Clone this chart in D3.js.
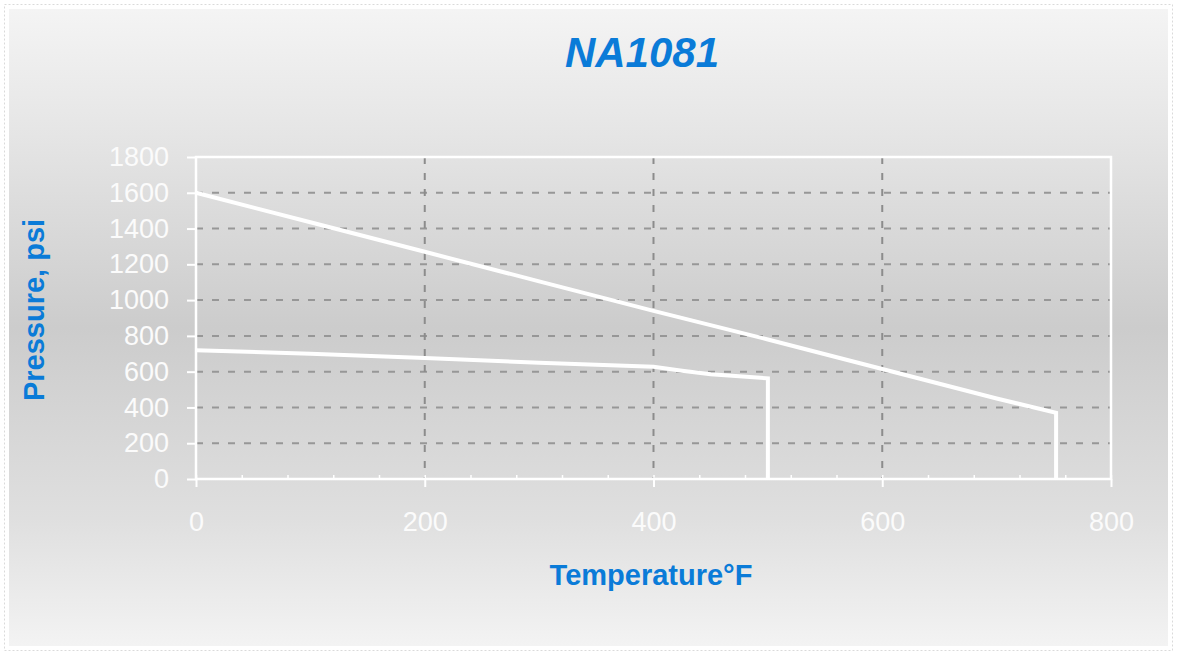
<!DOCTYPE html>
<html>
<head>
<meta charset="utf-8">
<script src="https://cdn.jsdelivr.net/npm/d3@7"></script>
<style>
  body { margin: 0; background: #ffffff; }
  text { font-family: "Liberation Sans", Arial, sans-serif; }
</style>
</head>
<body>
<svg></svg>
<script>
var width = 1177;
var height = 655;

// values
var xTicks = [0, 200, 400, 600, 800];
var yTicks = [0, 200, 400, 600, 800, 1000, 1200, 1400, 1600, 1800];
var tempHigh = [0, 100, 200, 300, 400, 500, 600, 700, 752, 752];
var pressHigh = [1600, 1435, 1270, 1105, 940, 780, 615, 450, 370, 0];
var tempLow = [0, 100, 200, 300, 400, 425, 450, 500, 500];
var pressLow = [720, 700, 677, 650, 627, 605, 585, 563, 0];

// plot box (window.top is reserved, so not "top")
var plotLeft = 196, plotRight = 1111, plotTop = 157, plotBottom = 479;

var xScale = d3.scaleLinear()
                .domain([0, 800])
                .range([plotLeft, plotRight]);
var yScale = d3.scaleLinear()
                .domain([0, 1800])
                .range([plotBottom, plotTop]);

var svg = d3.select('svg')
    .attr('width', width)
    .attr('height', height);

var grad = svg.append('defs')
  .append('linearGradient')
    .attr('id', 'bg')
    .attr('x1', 0).attr('y1', 0)
    .attr('x2', 0).attr('y2', 1);
grad.selectAll('stop')
    .data([[0, '#f4f4f4'], [0.2, '#e5e5e5'], [0.5, '#cccccc'], [0.8, '#dfdfdf'], [1, '#f3f3f3']])
    .enter()
  .append('stop')
    .attr('offset', d => d[0])
    .attr('stop-color', d => d[1]);

// outer dotted frame and panel
svg.append('rect')
    .attr('x', 4.5).attr('y', 4.5)
    .attr('width', width - 9).attr('height', height - 9)
    .attr('fill', 'none')
    .attr('stroke', '#dadada')
    .attr('stroke-dasharray', '2,2');

svg.append('rect')
    .attr('x', 9).attr('y', 9)
    .attr('width', width - 18).attr('height', height - 18)
    .attr('fill', 'url(#bg)');

// grid lines
svg.append('g')
 .selectAll('line')
    .data(yTicks.slice(1, -1))
    .enter()
  .append('line')
    .attr('x1', plotLeft).attr('x2', plotRight)
    .attr('y1', d => yScale(d)).attr('y2', d => yScale(d))
    .attr('stroke', '#979797')
    .attr('stroke-width', 2)
    .attr('stroke-dasharray', '7,9');

svg.append('g')
 .selectAll('line')
    .data(xTicks.slice(1, -1))
    .enter()
  .append('line')
    .attr('x1', d => xScale(d)).attr('x2', d => xScale(d))
    .attr('y1', plotTop).attr('y2', plotBottom)
    .attr('stroke', '#8c8c8c')
    .attr('stroke-width', 2)
    .attr('stroke-dasharray', '7,9');

// frame
svg.append('rect')
    .attr('x', plotLeft).attr('y', plotTop)
    .attr('width', plotRight - plotLeft).attr('height', plotBottom - plotTop)
    .attr('fill', 'none')
    .attr('stroke', '#ffffff')
    .attr('stroke-width', 2.5);

// axes
var xAxis = d3.axisBottom(xScale)
                .tickValues(xTicks)
                .tickSize(8)
                .tickPadding(25);
var xMinor = d3.axisTop(xScale)
                .tickValues(d3.range(0, 801, 40))
                .tickSize(4)
                .tickFormat('');
var yAxis = d3.axisLeft(yScale)
                .tickValues(yTicks)
                .tickFormat(d3.format('d'))
                .tickSize(9)
                .tickPadding(18);

var gx = svg.append('g')
    .attr('transform', 'translate(0,' + plotBottom + ')')
    .call(xAxis);
var gm = svg.append('g')
    .attr('transform', 'translate(0,' + plotBottom + ')')
    .call(xMinor);
var gy = svg.append('g')
    .attr('transform', 'translate(' + plotLeft + ',0)')
    .call(yAxis);

[gx, gm, gy].forEach(function(g) {
  g.select('.domain').remove();
  g.selectAll('line')
      .attr('stroke', '#ffffff')
      .attr('stroke-width', 2);
  g.selectAll('text')
      .attr('fill', '#fbfbfb')
      .style('font-size', '27px');
});
gm.selectAll('line').attr('stroke-width', 1.5);

// series
var line = d3.line()
    .x(d => xScale(d[0]))
    .y(d => yScale(d[1]));

svg.append('path')
    .datum(d3.zip(tempHigh, pressHigh))
    .attr('d', line)
    .attr('fill', 'none')
    .attr('stroke', '#ffffff')
    .attr('stroke-width', 4);

svg.append('path')
    .datum(d3.zip(tempLow, pressLow))
    .attr('d', line)
    .attr('fill', 'none')
    .attr('stroke', '#ffffff')
    .attr('stroke-width', 4);

// titles
svg.append('text')
    .attr('x', 642)
    .attr('y', 67)
    .style('text-anchor', 'middle')
    .style('font-size', '42px')
    .style('font-weight', 'bold')
    .style('font-style', 'italic')
    .attr('fill', '#0a7bd8')
    .text('NA1081');

svg.append('text')
    .attr('x', 651)
    .attr('y', 585)
    .style('text-anchor', 'middle')
    .style('font-size', '29px')
    .style('font-weight', 'bold')
    .attr('fill', '#0a7bd8')
    .text('Temperature°F');

svg.append('text')
    .attr('transform', 'rotate(-90)')
    .attr('x', -310)
    .attr('y', 44)
    .style('text-anchor', 'middle')
    .style('font-size', '29px')
    .style('font-weight', 'bold')
    .attr('fill', '#0a7bd8')
    .text('Pressure, psi');
</script>
</body>
</html>
